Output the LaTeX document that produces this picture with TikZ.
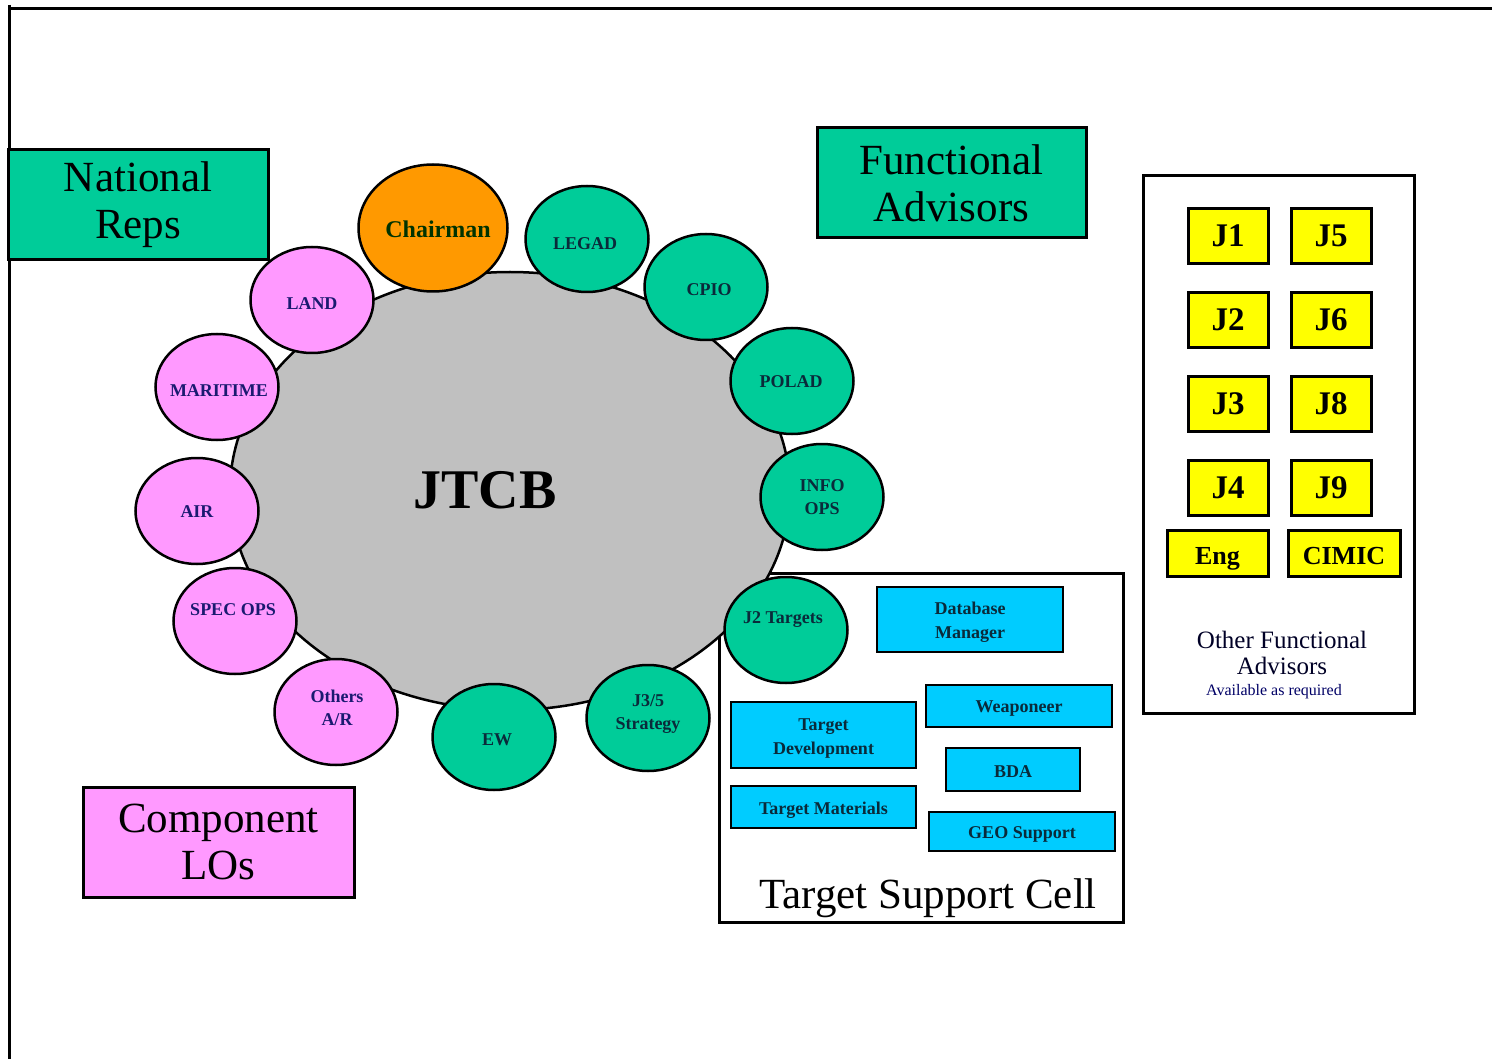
\documentclass[tikz,border=0pt]{standalone}
\usepackage{fontspec}
\setmainfont{Liberation Serif}
\usetikzlibrary{shapes.geometric}
\definecolor{cgreen}{HTML}{00CC99}
\definecolor{corange}{HTML}{FF9900}
\definecolor{cpink}{HTML}{FF99FF}
\definecolor{ccyan}{HTML}{00CCFF}
\definecolor{cyellow}{HTML}{FFFF00}
\definecolor{cgrey}{HTML}{C0C0C0}
\definecolor{pinktext}{HTML}{1A1A70}
\definecolor{greentext}{HTML}{0A2A3A}
\tikzset{
  bigbox/.style={draw=black, line width=3pt, inner sep=0pt, align=center, font=\fontsize{43}{47}\selectfont},
  cyanbox/.style={draw=black, line width=2.6pt, fill=ccyan, inner sep=0pt, align=center, font=\bfseries\fontsize{18}{24}\selectfont, text=greentext},
  cyanlbl/.style={inner sep=0pt, align=center, font=\bfseries\fontsize{18}{24}\selectfont, text=greentext},
  jbox/.style={draw=black, line width=3pt, fill=cyellow, inner sep=0pt, minimum width=80pt, minimum height=55pt, font=\bfseries\fontsize{33}{36}\selectfont},
  seat/.style={ellipse, draw=black, line width=2.5pt, inner sep=0pt, minimum width=123pt, minimum height=106pt},
  pinkseat/.style={seat, fill=cpink},
  greenseat/.style={seat, fill=cgreen},
  seatlbl/.style={inner sep=0pt, align=center, font=\bfseries\fontsize{18}{23}\selectfont},
  plbl/.style={seatlbl, text=pinktext},
  glbl/.style={seatlbl, text=greentext},
}
\begin{document}
\begin{tikzpicture}[x=1pt, y=-1pt]
\useasboundingbox (0,0) rectangle (1492,1059);
\fill[white] (0,0) rectangle (1492,1059);
% frame
\coordinate (fa) at (1492,9);
\coordinate (fb) at (9,9);
\coordinate (fc) at (9,1059);
\coordinate (fd) at (9,5);
\draw[line width=3pt] (fa) -- (fb);
\draw[line width=3pt] (fd) -- (fc);

% headline boxes
\node[bigbox, fill=cgreen, minimum width=260pt, minimum height=110pt] (natrep) at (138,205) {National\\Reps};
\node[bigbox, fill=cgreen, minimum width=269pt, minimum height=110pt] (funcadv) at (951.5,183) {Functional\\Advisors};
\node[bigbox, fill=cpink, minimum width=271pt, minimum height=110pt] (complo) at (218.5,842) {Component\\LOs};

% Target support cell
\node[draw=black, line width=3pt, fill=white, minimum width=404pt, minimum height=349pt, inner sep=0pt] (tsc) at (921,747.5) {};
\node[inner sep=0pt, font=\fontsize{43}{47}\selectfont] (tsclbl) at (928,898) {Target Support Cell};
\node[cyanbox, minimum width=186pt, minimum height=65pt] (dbm) at (970,619.5) {};
\node[cyanlbl] (dbml) at (970,622.5) {Database\\Manager};
\node[cyanbox, minimum width=186pt, minimum height=42pt] (weap) at (1019,706) {};
\node[cyanlbl] (weapl) at (1019,709) {Weaponeer};
\node[cyanbox, minimum width=185pt, minimum height=66pt] (tdev) at (823.5,735) {};
\node[cyanlbl] (tdevl) at (823.5,738.5) {Target\\Development};
\node[cyanbox, minimum width=134pt, minimum height=43pt] (bda) at (1013,769.5) {};
\node[cyanlbl] (bdal) at (1013,772) {BDA};
\node[cyanbox, minimum width=185pt, minimum height=42pt] (tmat) at (823.5,807) {};
\node[cyanlbl] (tmatl) at (823.5,810) {Target Materials};
\node[cyanbox, minimum width=186pt, minimum height=39pt] (geo) at (1022,831.5) {};
\node[cyanlbl] (geol) at (1022,834) {GEO Support};

% Other functional advisors
\node[draw=black, line width=3pt, fill=white, minimum width=271pt, minimum height=537pt, inner sep=0pt] (ofa) at (1278.5,444.5) {};
\node[jbox] (j1) at (1228,236) {J1};
\node[jbox] (j5) at (1331,236) {J5};
\node[jbox] (j2) at (1228,320) {J2};
\node[jbox] (j6) at (1331,320) {J6};
\node[jbox] (j3) at (1228,404) {J3};
\node[jbox] (j8) at (1331,404) {J8};
\node[jbox] (j4) at (1228,488) {J4};
\node[jbox] (j9) at (1331,488) {J9};
\node[jbox, minimum width=101pt, minimum height=46pt, text height=22pt, text depth=0pt, font=\bfseries\fontsize{26}{30}\selectfont] (eng) at (1217.5,553) {Eng};
\node[jbox, minimum width=112pt, minimum height=46pt, text height=22pt, text depth=0pt, font=\bfseries\fontsize{26}{30}\selectfont] (cimic) at (1344,553) {CIMIC};
\node[inner sep=0pt, align=center, font=\fontsize{25}{26}\selectfont, text=black!85!blue] (ofalbl) at (1282,653) {Other Functional\\Advisors};
\node[inner sep=0pt, font=\fontsize{16}{18}\selectfont, text=black!60!blue] (avail) at (1274,692) {Available as required};

% JTCB table
\node[ellipse, draw=black, line width=2.5pt, fill=cgrey, minimum width=560pt, minimum height=438pt, inner sep=0pt] (jtcb) at (510,491) {};
\node[inner sep=0pt, font=\bfseries\fontsize{56}{60}\selectfont] (jtcblbl) at (485,490) {JTCB};

% seats
\node[seat, fill=corange, minimum width=149pt, minimum height=127pt] (chair) at (433,228) {};
\node[inner sep=0pt, font=\bfseries\fontsize{24}{28}\selectfont, text=black!80!green] (chairlbl) at (438,229) {Chairman};
\node[greenseat] (legad) at (587,239) {};
\node[glbl] (legadl) at (585,244) {LEGAD};
\node[greenseat] (cpio) at (706,287) {};
\node[glbl] (cpiol) at (709,290) {CPIO};
\node[greenseat] (polad) at (792,381) {};
\node[glbl] (poladl) at (791,382) {POLAD};
\node[greenseat] (info) at (822,497) {};
\node[glbl] (infol) at (822,497) {INFO\\OPS};
\node[greenseat] (j2t) at (786,630) {};
\node[glbl] (j2tl) at (783,620) {J2 Targets};
\node[greenseat] (j35) at (648,718) {};
\node[glbl] (j35l) at (648,714) {J3/5\\Strategy};
\node[greenseat] (ew) at (494,737) {};
\node[glbl] (ewl) at (497,740) {EW};
\node[pinkseat] (others) at (336,712) {};
\node[plbl] (othersl) at (337,708) {Others\\A/R};
\node[pinkseat] (specops) at (235,621) {};
\node[plbl] (specopsl) at (233,610) {SPEC OPS};
\node[pinkseat] (air) at (197,511) {};
\node[plbl] (airl) at (197,512) {AIR};
\node[pinkseat] (mar) at (217,387) {};
\node[plbl] (marl) at (219,391) {MARITIME};
\node[pinkseat] (land) at (312,300) {};
\node[plbl] (landl) at (312,304) {LAND};
\end{tikzpicture}
\end{document}
